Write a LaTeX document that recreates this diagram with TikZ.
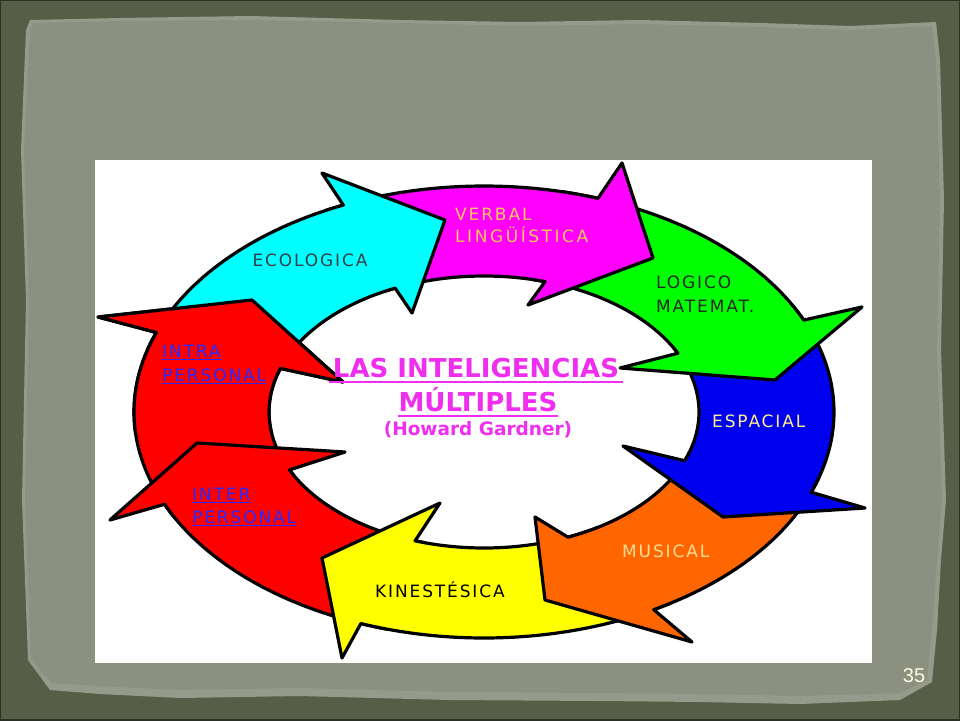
\documentclass[tikz,border=0pt]{standalone}
\usepackage{fontspec}
\setmainfont{DejaVu Sans}
\newfontfamily\lblfont[LetterSpace=11]{DejaVu Sans}
\newfontfamily\lblwidefont[LetterSpace=15]{DejaVu Sans}
\newfontfamily\numfont{Liberation Sans}
\definecolor{outerbg}{HTML}{575E48}
\definecolor{edgedark}{HTML}{2C3024}
\definecolor{paperband}{HTML}{959A8A}
\definecolor{paper}{HTML}{8B9081}
\definecolor{ttl}{HTML}{F02EF0}
\definecolor{lblblue}{HTML}{2A2AFF}
\definecolor{verbcol}{HTML}{FFC858}
\definecolor{espcol}{HTML}{FFEE90}
\definecolor{muscol}{HTML}{FFDC98}
\definecolor{arrred}{HTML}{FF0000}
\definecolor{arrorange}{HTML}{FF6600}
\definecolor{arrblue}{HTML}{0000F0}
\definecolor{arrcyan}{HTML}{00FFFF}
\definecolor{arrmagenta}{HTML}{FF00FF}
\definecolor{arryellow}{HTML}{FFFF00}
\definecolor{arrgreen}{HTML}{00FF00}
\definecolor{numcol}{HTML}{FFFBE0}
\newcommand\ringarrow[7]{%
  \filldraw[arrowbody, fill=#1]
    plot[domain=#2:#3, samples=40] ({484+350*cos(\x)},{412+226*sin(\x)})
    -- #5 -- #6 -- #7
    -- ({484+215*cos(#4)},{412+136*sin(#4)})
    -- plot[domain=#4:#2, samples=40] ({484+215*cos(\x)},{412+136*sin(\x)})
    -- cycle;}
\tikzset{
  arrowbody/.style={draw=black, line width=3.2pt, line join=round},
  lbl/.style={inner sep=0pt, anchor=base west, font=\lblfont\fontsize{17}{20}\selectfont},
  lblwide/.style={inner sep=0pt, anchor=base west, font=\lblwidefont\fontsize{17}{20}\selectfont},
  ttlnode/.style={inner sep=0pt, anchor=base, text=ttl, font=\bfseries\fontsize{26}{30}\selectfont},
  ulblue/.style={draw=lblblue, line width=1.2pt},
  ulttl/.style={draw=ttl, line width=2pt}
}
\begin{document}
\begin{tikzpicture}[x=1pt,y=-1pt]
\useasboundingbox (0,0) rectangle (960,720);
% background
\fill[outerbg] (0,0) rectangle (960,720);
\draw[edgedark, line width=2pt] (0,0) rectangle (960,720);
\fill[paperband] (26,30) -- (30,20) -- (120,18) -- (250,16) -- (400,20) -- (520,22) -- (640,20) -- (760,23) -- (850,26) -- (936,22)
  -- (940,60) -- (944,200) -- (941,350) -- (946,500) -- (941,560) -- (937,630) -- (932,682)
  -- (900,700) -- (800,704) -- (700,702) -- (600,701) -- (450,700) -- (300,696) -- (180,698) -- (100,694) -- (50,690)
  -- (28,660) -- (22,500) -- (26,300) -- (21,150) -- cycle;
\fill[paper] (30,30) -- (34,23) -- (120,21) -- (250,20) -- (400,23) -- (520,26) -- (640,24) -- (760,27) -- (850,30) -- (932,26)
  -- (936,60) -- (940,200) -- (937,350) -- (942,500) -- (937,560) -- (932,630) -- (927,680)
  -- (900,693) -- (800,696) -- (700,694) -- (600,693) -- (450,692) -- (300,688) -- (180,690) -- (100,686) -- (52,683)
  -- (31,660) -- (25,500) -- (29,300) -- (24,150) -- cycle;
\fill[white] (95,160) rectangle (872,663);
% ring of arrows
\ringarrow{arrred}{152}{200.6}{198.7}{(98,317)}{(252,300)}{(343,382)}
\ringarrow{arrred}{106}{155.9}{154.8}{(110,520)}{(197,443)}{(345,452)}
\ringarrow{arryellow}{58}{110.6}{108.7}{(342,658)}{(322,558)}{(440,503)}
\ringarrow{arrorange}{17}{61}{67}{(692,642)}{(545,600)}{(535,517)}
\ringarrow{arrblue}{-28}{20.8}{21}{(865,508)}{(723,517)}{(623,446)}
\ringarrow{arrgreen}{-77}{-24}{-25.6}{(862,307)}{(775,380)}{(620,368)}
\ringarrow{arrmagenta}{-117}{-71}{-73.5}{(622,163)}{(653,258)}{(528,305)}
\ringarrow{arrcyan}{-164}{-113.7}{-114.4}{(322,173)}{(445,220)}{(412,313)}
\begin{scope}
\clip (60,150) rectangle (480,432);
\ringarrow{arrred}{152}{200.6}{198.7}{(98,317)}{(252,300)}{(343,382)}
\end{scope}
% labels
\node[lbl, anchor=base, text=black!85!cyan] (eco) at (310,266) {ECOLOGICA};
\node[lbl, text=verbcol] (verb1) at (455,220) {VERBAL};
\node[lblwide, text=verbcol] (verb2) at (455,242) {LINGÜÍSTICA};
\node[lbl, text=black!85] (log1) at (656,288) {LOGICO};
\node[lbl, text=black!85] (log2) at (656,312) {MATEMAT.};
\node[lbl, text=espcol] (esp) at (712,427) {ESPACIAL};
\node[lbl, text=muscol] (mus) at (622,557) {MUSICAL};
\node[lbl, text=black] (kin) at (375,597) {KINESTÉSICA};
\node[lbl, text=lblblue] (intra1) at (162,357) {INTRA};
\node[lbl, text=lblblue] (intra2) at (162,381) {PERSONAL};
\node[lbl, text=lblblue] (inter1) at (192,500) {INTER};
\node[lbl, text=lblblue] (inter2) at (192,523) {PERSONAL};
\foreach \n in {intra1,intra2,inter1,inter2}
  \draw[ulblue] ([yshift=-2.5pt]\n.base west) -- ([yshift=-2.5pt]\n.base east);
% title
\node[ttlnode] (t1) at (476,377) {LAS INTELIGENCIAS};
\node[ttlnode] (t2) at (478,411) {MÚLTIPLES};
\node[ttlnode, font=\bfseries\fontsize{18.5}{22}\selectfont] (t3) at (478,435) {(Howard Gardner)};
\draw[ulttl] ([xshift=-4pt,yshift=-4.5pt]t1.base west) -- ([xshift=4pt,yshift=-4.5pt]t1.base east);
\draw[ulttl] ([yshift=-4.5pt]t2.base west) -- ([yshift=-4.5pt]t2.base east);
% page number
\node[inner sep=0pt, anchor=base, text=numcol, font=\numfont\fontsize{20}{24}\selectfont] (pnum) at (914,682) {35};
\end{tikzpicture}
\end{document}
